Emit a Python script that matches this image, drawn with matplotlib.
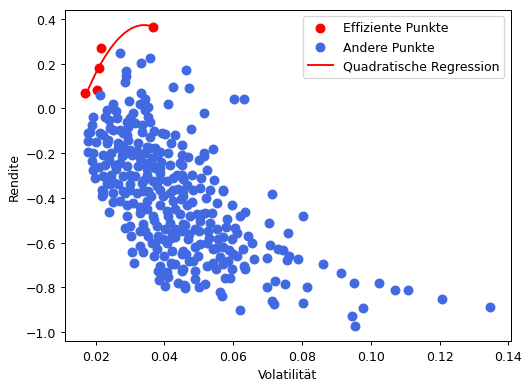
import matplotlib
matplotlib.use("Agg")
import matplotlib.pyplot as plt
import numpy as np

# efficient portfolios (volatility, return)
eff_vol = [0.0169, 0.0203, 0.0210, 0.0215, 0.0368]
eff_ret = [0.069, 0.081, 0.182, 0.269, 0.363]

# all other portfolios
other_vol = [
    0.0271, 0.0358, 0.0332, 0.0288, 0.0288, 0.0285, 0.0463, 0.0426, 0.0470, 0.0331,
    0.0213, 0.0298, 0.0251, 0.0329, 0.0343, 0.0353, 0.0411, 0.0232, 0.0193, 0.0227,
    0.0261, 0.0300, 0.0353,
    0.0603, 0.0631, 0.0515, 0.0477, 0.0450, 0.0540, 0.0515, 0.0515, 0.0468, 0.0450,
    0.0523, 0.0545, 0.0505, 0.0455, 0.0465, 0.0569, 0.0503, 0.0533, 0.0713,
    0.0596, 0.0634, 0.0620, 0.0804, 0.0705, 0.0581, 0.0760, 0.0605, 0.0610, 0.0571,
    0.0596, 0.0644, 0.0654, 0.0707, 0.0729, 0.0744, 0.0763, 0.0756, 0.0789, 0.0697,
    0.0660, 0.0628, 0.0610, 0.0589, 0.0550, 0.0523, 0.0630, 0.0634, 0.0596, 0.0591,
    0.0576, 0.0721, 0.0750, 0.0699, 0.0814, 0.0562, 0.0567, 0.0712, 0.0717, 0.0804,
    0.0620, 0.0460, 0.0499, 0.0518, 0.0489, 0.0455, 0.0489, 0.0484, 0.0523, 0.0542,
    0.0571, 0.0562, 0.0586, 0.0528, 0.0552, 0.0532, 0.0503, 0.0518, 0.0537, 0.0474,
    0.0494, 0.0552, 0.0571,
    0.0860, 0.0914, 0.0951, 0.1024, 0.1071, 0.1108, 0.1207, 0.1347, 0.0978, 0.0945,
    0.0954,
    0.0285, 0.0302, 0.0307, 0.0312, 0.0339, 0.0387, 0.0380, 0.0408, 0.0431, 0.0450,
    0.0385, 0.0411, 0.0401, 0.0457, 0.0461, 0.0421, 0.0455, 0.0377, 0.0363, 0.0329,
    0.0407,
    0.0222, 0.0240, 0.0421, 0.0421, 0.0397, 0.0373, 0.0353,
    0.0343, 0.0291, 0.0315, 0.0358, 0.0188, 0.0183, 0.0213, 0.0242, 0.0271, 0.0295,
    0.0334, 0.0358, 0.0392, 0.0179, 0.0179, 0.0188, 0.0193, 0.0198, 0.0217, 0.0217,
    0.0237, 0.0266, 0.0295, 0.0324, 0.0348, 0.0373, 0.0387, 0.0363, 0.0343, 0.0373,
    0.0305, 0.0276, 0.0246, 0.0222, 0.0227, 0.0256, 0.0291, 0.0324, 0.0348, 0.0315,
    0.0280, 0.0246, 0.0232, 0.0266, 0.0300, 0.0334, 0.0368, 0.0387, 0.0353, 0.0319,
    0.0285, 0.0251,
    0.0401, 0.0418, 0.0358, 0.0377, 0.0363, 0.0416, 0.0445, 0.0387, 0.0436, 0.0455,
    0.0407, 0.0377, 0.0426, 0.0484, 0.0397, 0.0455,
    0.0334, 0.0179, 0.0251, 0.0280, 0.0193, 0.0232, 0.0266, 0.0300, 0.0343, 0.0222,
    0.0271, 0.0387, 0.0450, 0.0426, 0.0387, 0.0242, 0.0222, 0.0300, 0.0339, 0.0416,
    0.0455, 0.0271, 0.0310, 0.0348, 0.0387, 0.0426, 0.0465, 0.0291, 0.0329, 0.0368,
    0.0407, 0.0445, 0.0300, 0.0339, 0.0377, 0.0416, 0.0455,
    0.0448, 0.0489, 0.0469, 0.0503, 0.0463, 0.0498, 0.0541, 0.0556, 0.0343, 0.0401,
    0.0431,
    # denser core of the cloud
    0.0240, 0.0280, 0.0330, 0.0370, 0.0410, 0.0430, 0.0480, 0.0450, 0.0350, 0.0250,
    0.0520, 0.0500, 0.0470, 0.0550, 0.0400, 0.0370, 0.0440, 0.0500, 0.0220, 0.0260,
    0.0300, 0.0340, 0.0360, 0.0290, 0.0330, 0.0380, 0.0420, 0.0460, 0.0480, 0.0510,
    0.0440, 0.0390, 0.0450, 0.0430, 0.0310, 0.0260, 0.0210, 0.0240, 0.0280, 0.0350,
    0.0320, 0.0290, 0.0200, 0.0250, 0.0280, 0.0330, 0.0370, 0.0410, 0.0430, 0.0470,
    0.0530, 0.0580, 0.0570, 0.0600, 0.0490, 0.0450, 0.0420, 0.0390,
]
other_ret = [
    0.249, 0.227, 0.201, 0.167, 0.143, 0.118, 0.170, 0.096, 0.089, 0.067,
    0.059, 0.034, 0.019, 0.019, 0.040, 0.004, 0.019, -0.008, -0.040, -0.037,
    -0.044, -0.044, -0.040,
    0.041, 0.041, -0.021, -0.091, -0.163, -0.180, -0.200, -0.215, -0.219, -0.252,
    -0.274, -0.322, -0.311, -0.311, -0.341, -0.366, -0.355, -0.363, -0.385,
    -0.433, -0.464, -0.482, -0.479, -0.514, -0.496, -0.556, -0.534, -0.556, -0.575,
    -0.585, -0.571, -0.600, -0.611, -0.630, -0.634, -0.659, -0.677, -0.674, -0.670,
    -0.674, -0.630, -0.659, -0.633, -0.622, -0.600, -0.704, -0.719, -0.719, -0.756,
    -0.760, -0.771, -0.783, -0.798, -0.798, -0.822, -0.837, -0.859, -0.874, -0.871,
    -0.901, -0.793, -0.800, -0.785, -0.763, -0.719, -0.726, -0.682, -0.704, -0.689,
    -0.696, -0.666, -0.682, -0.548, -0.541, -0.511, -0.504, -0.467, -0.467, -0.482,
    -0.474, -0.422, -0.371,
    -0.696, -0.738, -0.781, -0.781, -0.812, -0.811, -0.853, -0.889, -0.890, -0.926,
    -0.973,
    -0.534, -0.571, -0.640, -0.689, -0.640, -0.704, -0.726, -0.733, -0.696, -0.726,
    -0.767, -0.755, -0.795, -0.789, -0.804, -0.637, -0.637, -0.630, -0.600, -0.615,
    -0.600,
    -0.385, -0.464, -0.696, -0.556, -0.585, -0.600, -0.571,
    -0.008, -0.060, -0.067, -0.060, -0.074, -0.104, -0.111, -0.089, -0.096, -0.082,
    -0.104, -0.126, -0.111, -0.148, -0.193, -0.237, -0.274, -0.311, -0.363, -0.393,
    -0.141, -0.156, -0.141, -0.156, -0.171, -0.178, -0.193, -0.222, -0.244, -0.266,
    -0.207, -0.215, -0.200, -0.207, -0.252, -0.252, -0.259, -0.259, -0.296, -0.303,
    -0.303, -0.296, -0.333, -0.340, -0.340, -0.333, -0.326, -0.363, -0.371, -0.378,
    -0.378, -0.378,
    -0.115, -0.156, -0.178, -0.207, -0.252, -0.252, -0.244, -0.289, -0.296, -0.318,
    -0.326, -0.348, -0.363, -0.363, -0.393, -0.393,
    -0.075, -0.111, -0.096, -0.111, -0.200, -0.156, -0.178, -0.185, -0.200, -0.303,
    -0.244, -0.266, -0.296, -0.311, -0.318, -0.340, -0.371, -0.363, -0.371, -0.378,
    -0.371, -0.415, -0.422, -0.415, -0.430, -0.415, -0.430, -0.482, -0.467, -0.482,
    -0.460, -0.474, -0.526, -0.519, -0.526, -0.511, -0.519,
    -0.407, -0.541, -0.585, -0.607, -0.652, -0.661, -0.630, -0.585, -0.550, -0.541,
    -0.576,
    -0.050, -0.170, -0.220, -0.100, -0.200, -0.450, -0.300, -0.550, -0.450, -0.420,
    -0.400, -0.550, -0.680, -0.720, -0.660, -0.660, -0.780, -0.230, -0.120, -0.270,
    -0.300, -0.320, -0.390, -0.430, -0.550, -0.570, -0.580, -0.520, -0.420, -0.470,
    -0.360, -0.240, -0.210, -0.120, -0.020, -0.010, -0.260, -0.230, -0.210, -0.270,
    -0.190, -0.120, -0.150, -0.330, -0.370, -0.440, -0.500, -0.480, -0.540, -0.560,
    -0.580, -0.530, -0.620, -0.650, -0.620, -0.650, -0.690, -0.740,
]

# quadratic regression on efficient points
coef = np.polyfit(eff_vol, eff_ret, 2)
xs = np.linspace(min(eff_vol), max(eff_vol), 100)

fig = plt.figure(figsize=(5.8, 4.2333), dpi=90)
fig.subplots_adjust(left=0.124, right=0.978, bottom=0.102, top=0.971)
ax = fig.add_subplot(111)
ax.scatter(eff_vol, eff_ret, color='red', s=48, label='Effiziente Punkte')
ax.scatter(other_vol, other_ret, color='royalblue', s=48, label='Andere Punkte')
ax.plot(xs, np.polyval(coef, xs), color='red', label='Quadratische Regression')
ax.set_xlabel('Volatilität')
ax.set_ylabel('Rendite')
ax.legend(loc='upper right')
fig.savefig('out.png', dpi=90)
